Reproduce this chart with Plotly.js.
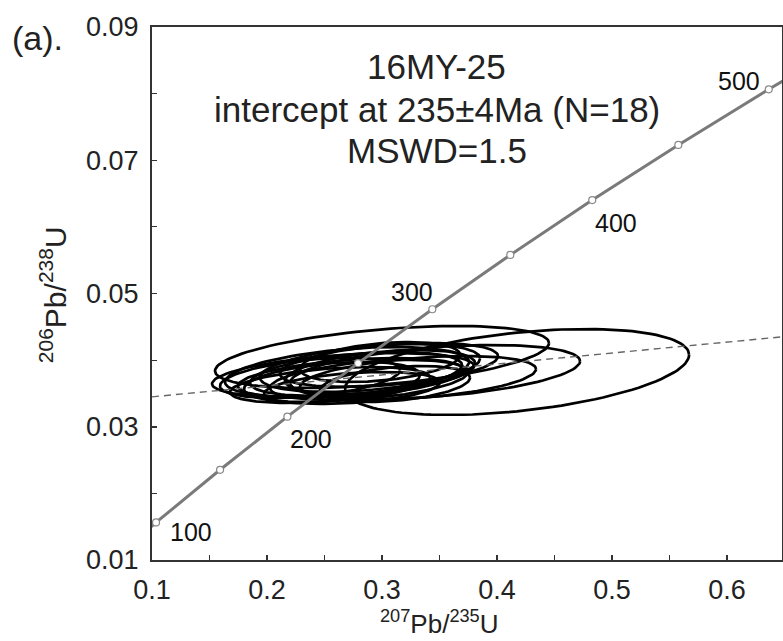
<!DOCTYPE html>
<html>
<head>
<meta charset="utf-8">
<script src="https://cdn.plot.ly/plotly-3.0.1.min.js"></script>
<style>html,body{margin:0;padding:0;background:#fff;}#chart{width:783px;height:641px;}</style>
</head>
<body>
<div id="chart"></div>
<script>
// Concordia reference points (age in Ma, 207Pb/235U, 206Pb/238U)
var concAge = [50, 100, 150, 200, 250, 300, 350, 400, 450, 500, 550];
var conc207 = [0.05048, 0.10350, 0.15920, 0.21771, 0.27917, 0.34374, 0.41156, 0.48281, 0.55766, 0.63628, 0.71887];
var conc206 = [0.007786, 0.015633, 0.023542, 0.031511, 0.039543, 0.047638, 0.055795, 0.064016, 0.072300, 0.080650, 0.089065];
var labelAges = [100, 200, 300, 400, 500];

// Discordia (regression line) end points
var disc207 = [0.10, 0.65];
var disc206 = [0.03449, 0.04353];

// Error ellipses: centre, half-widths, correlation
var ellX   = [0.4174, 0.3000, 0.2661, 0.2696, 0.2730, 0.2774, 0.2896, 0.2887, 0.2983, 0.2548, 0.3461, 0.3313, 0.3061, 0.2565, 0.2983, 0.2739, 0.3113, 0.2374];
var ellY   = [0.03822, 0.04047, 0.03777, 0.03822, 0.03732, 0.03792, 0.03882, 0.03702, 0.03822, 0.03627, 0.03822, 0.03732, 0.03927, 0.03672, 0.03972, 0.03582, 0.03642, 0.03732];
var ellSx  = [0.1496, 0.1452, 0.1139, 0.1061, 0.0983, 0.0922, 0.0957, 0.0861, 0.0826, 0.0870, 0.1261, 0.1026, 0.0948, 0.0765, 0.0696, 0.0765, 0.0652, 0.0783];
var ellSy  = [0.00645, 0.00465, 0.0033, 0.00375, 0.0030, 0.0033, 0.0036, 0.0030, 0.0033, 0.0027, 0.00405, 0.0033, 0.0033, 0.0030, 0.0030, 0.0024, 0.0027, 0.0030];
var ellRho = [0.40, 0.45, 0.40, 0.40, 0.40, 0.40, 0.40, 0.40, 0.40, 0.40, 0.40, 0.40, 0.40, 0.35, 0.35, 0.35, 0.35, 0.40];

// Axis ticks
var xTicks = [0.1, 0.2, 0.3, 0.4, 0.5, 0.6];
var yTicks = [0.01, 0.03, 0.05, 0.07, 0.09];

var traces = [];
// ellipses
for (var i = 0; i < ellX.length; i++) {
  var xs = [], ys = [];
  var r = ellRho[i], q = Math.sqrt(1 - r * r);
  for (var k = 0; k <= 120; k++) {
    var t = 2 * Math.PI * k / 120;
    xs.push(ellX[i] + ellSx[i] * Math.cos(t));
    ys.push(ellY[i] + ellSy[i] * (r * Math.cos(t) + q * Math.sin(t)));
  }
  traces.push({x: xs, y: ys, mode: 'lines', type: 'scatter',
    line: {color: '#000', width: 2.7}, hoverinfo: 'skip', showlegend: false});
}
// discordia
traces.push({x: disc207, y: disc206, mode: 'lines', type: 'scatter',
  line: {color: '#666', width: 1.4, dash: '7px,5px'}, showlegend: false});
// concordia
traces.push({x: conc207, y: conc206, mode: 'lines+markers', type: 'scatter',
  line: {color: '#7a7a7a', width: 3},
  marker: {symbol: 'circle', size: 7, color: '#fff', line: {color: '#888', width: 1.2}},
  showlegend: false});

var labelShift = {100: [35, -10], 200: [24, -22], 300: [-20, 17], 400: [24, -23], 500: [-30, 8]};
var ann = [];
labelAges.forEach(function (a) {
  var idx = concAge.indexOf(a);
  ann.push({x: conc207[idx], y: conc206[idx], xref: 'x', yref: 'y', text: String(a),
    showarrow: false, xshift: labelShift[a][0], yshift: labelShift[a][1],
    font: {family: 'Liberation Sans, Arial, sans-serif', size: 25, color: '#111'}});
});
var tfont = {family: 'Liberation Sans, Arial, sans-serif', size: 35, color: '#222'};
ann.push({xref: 'paper', yref: 'paper', x: 0.452, y: 0.926, text: '16MY-25', showarrow: false, font: tfont, xanchor: 'center', yanchor: 'middle'});
ann.push({xref: 'paper', yref: 'paper', x: 0.452, y: 0.846, text: 'intercept at 235±4Ma (N=18)', showarrow: false, font: tfont, xanchor: 'center', yanchor: 'middle'});
ann.push({xref: 'paper', yref: 'paper', x: 0.452, y: 0.769, text: 'MSWD=1.5', showarrow: false, font: tfont, xanchor: 'center', yanchor: 'middle'});
ann.push({xref: 'paper', yref: 'paper', x: -0.181, y: 0.979, text: '(a).', showarrow: false,
  font: {family: 'Liberation Sans, Arial, sans-serif', size: 34, color: '#222'}, xanchor: 'center', yanchor: 'middle'});
ann.push({xref: 'paper', yref: 'paper', x: 0.4556, y: -0.118, text: '<sup>207</sup>Pb/<sup>235</sup>U', showarrow: false,
  font: {family: 'Liberation Sans, Arial, sans-serif', size: 26, color: '#222'}, xanchor: 'center', yanchor: 'middle'});
ann.push({xref: 'paper', yref: 'paper', x: -0.157, y: 0.497, text: '<sup>206</sup>Pb/<sup>238</sup>U', showarrow: false, textangle: -90,
  font: {family: 'Liberation Sans, Arial, sans-serif', size: 30, color: '#222'}, xanchor: 'center', yanchor: 'middle'});

var tickFont = {family: 'Liberation Sans, Arial, sans-serif', size: 27, color: '#222'};
var layout = {
  width: 783, height: 641,
  margin: {l: 152, r: 1, t: 27, b: 81, pad: 0},
  paper_bgcolor: '#fff', plot_bgcolor: '#fff',
  showlegend: false,
  xaxis: {range: [0.1, 0.6478], tickvals: xTicks, ticktext: xTicks.map(String),
    ticks: 'inside', ticklen: 5, tickwidth: 1.5, tickcolor: '#333',
    minor: {ticks: 'inside', ticklen: 5, tickwidth: 1.2, tickcolor: '#333', dtick: 0.05, tick0: 0.1},
    showline: true, linecolor: '#333', linewidth: 2, mirror: true,
    showgrid: false, zeroline: false, tickfont: tickFont, ticklabelstandoff: 5},
  yaxis: {range: [0.01, 0.09], tickvals: yTicks, ticktext: yTicks.map(String),
    ticks: 'inside', ticklen: 5, tickwidth: 1.5, tickcolor: '#333',
    minor: {ticks: 'inside', ticklen: 5, tickwidth: 1.2, tickcolor: '#333', dtick: 0.01, tick0: 0.01},
    showline: true, linecolor: '#333', linewidth: 2, mirror: true,
    showgrid: false, zeroline: false, tickfont: tickFont, ticklabelstandoff: 6},
  annotations: ann
};
Plotly.newPlot('chart', traces, layout, {staticPlot: true, displayModeBar: false});
</script>
</body>
</html>
